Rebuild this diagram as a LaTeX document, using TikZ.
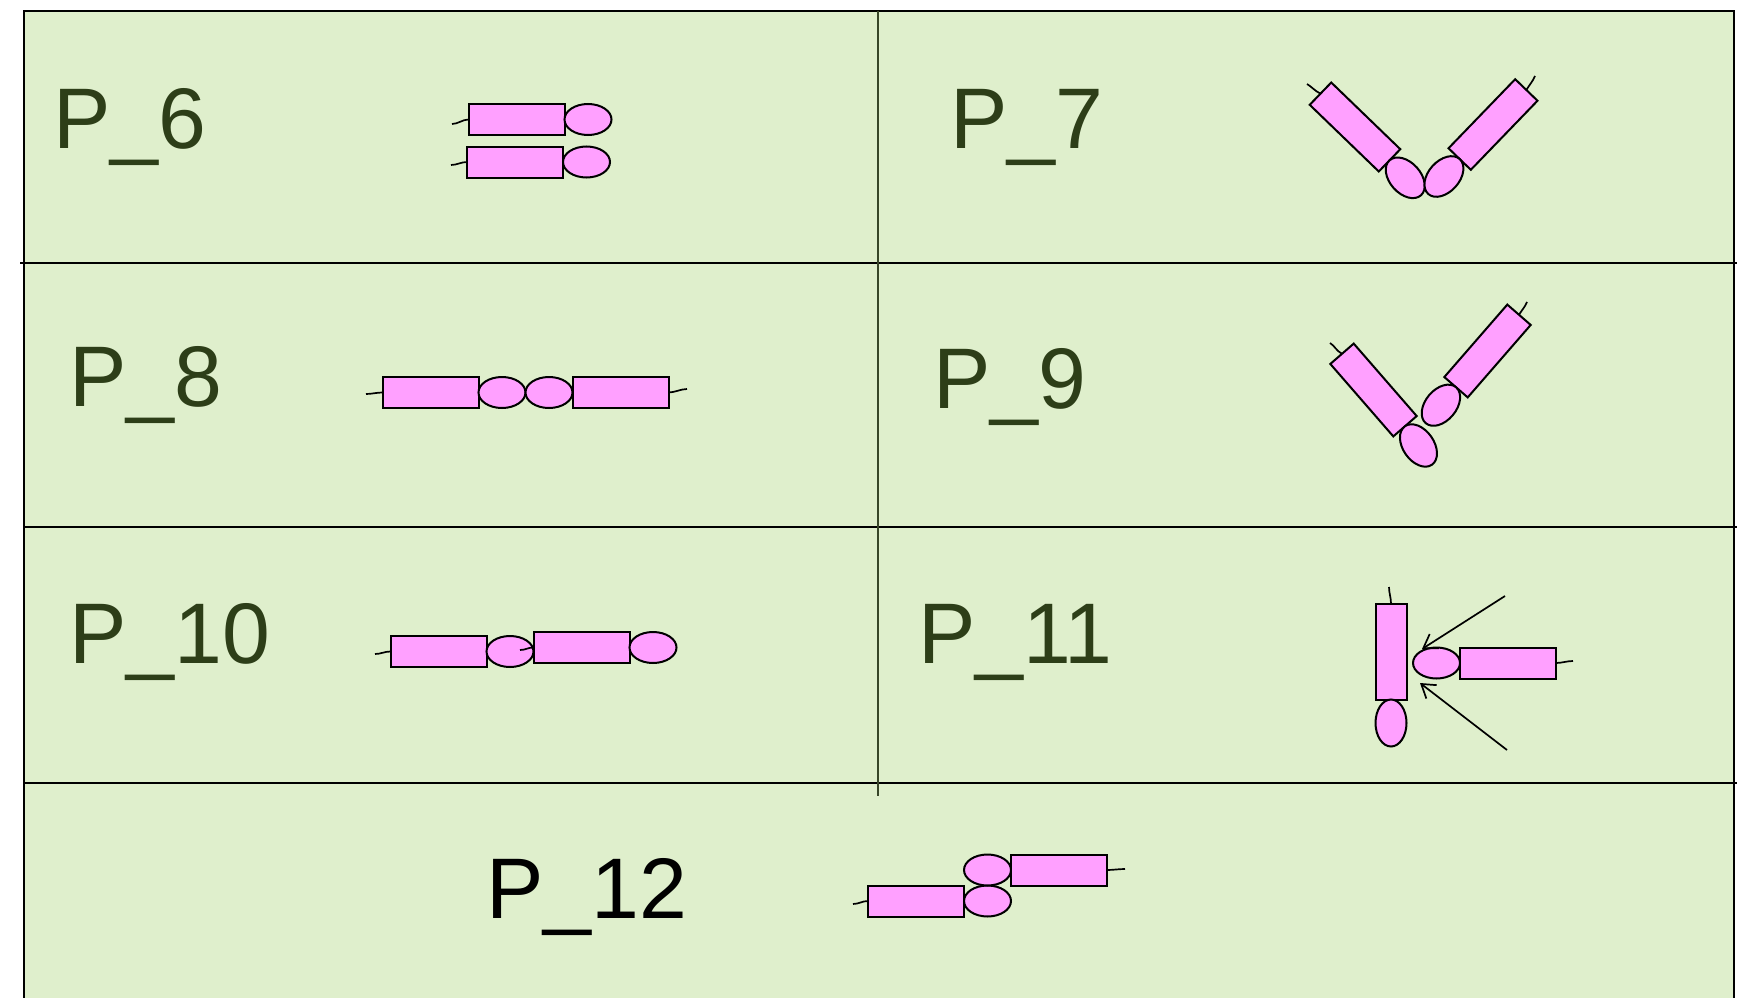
\documentclass[tikz,border=0pt]{standalone}
\usepackage{fontspec}
\setmainfont{Liberation Sans}
\usetikzlibrary{positioning,shapes.geometric,arrows.meta}
\definecolor{cellgreen}{RGB}{223,239,204}
\definecolor{dompink}{RGB}{255,160,255}
\definecolor{labelgreen}{RGB}{45,62,24}
\definecolor{ruleolive}{RGB}{55,70,40}
\begin{document}
\begin{tikzpicture}[x=1pt,y=-1pt,
	dom/.style={draw,fill=dompink,line width=2pt,minimum width=96pt,minimum height=31pt,inner sep=0pt,outer sep=0pt},
	lobe/.style={ellipse,draw,fill=dompink,line width=2pt,minimum width=47pt,minimum height=31pt,inner sep=0pt,outer sep=0pt},
	tail/.style={line width=1.7pt},
	pointer/.style={line width=1.7pt,-{Straight Barb[length=13pt,width=17pt]}},
	lbl/.style={anchor=base west,inner sep=0pt,text=labelgreen,font=\fontsize{86}{90}\selectfont},
	rule/.style={line width=2.2pt}]
	\useasboundingbox (0,0) rectangle (1746,998);
	\fill[cellgreen] (24,11) rectangle (1734,998);
	\draw[rule] (24,998) -- (24,11) -- (1734,11) -- (1734,998);
	\draw[rule] (20,263) -- (1737,263);
	\draw[rule] (24,527) -- (1737,527);
	\draw[rule] (24,783) -- (1737,783);
	\draw[line width=1.5pt,ruleolive] (878,11) -- (878,796);
	% P_6
	\node[lbl] (p6) at (53,148) {P\_6};
	\node[dom] (r6a) at (516.5,119.5) {};
	\node[lobe,right=0pt of r6a] (e6a) {};
	\node[dom] (r6b) at (515,162) {};
	\node[lobe,right=0pt of r6b] (e6b) {};
	\coordinate (t6a) at (452,124);
	\coordinate (t6b) at (451,165);
	\draw[tail] (r6a.west) .. controls +(-6,0) and +(6,0) .. (t6a);
	\draw[tail] (r6b.west) .. controls +(-6,0) and +(6,0) .. (t6b);
	% P_7
	\node[lbl] (p7) at (950,148) {P\_7};
	\node[dom,rotate=-44] (r7a) at (1355,127) {};
	\node[lobe,rotate=-48,anchor=west] (e7a) at (r7a.east) {};
	\node[dom,rotate=46] (r7b) at (1493,124.5) {};
	\node[lobe,rotate=48,anchor=east] (e7b) at (r7b.west) {};
	\coordinate (t7a) at (1307,84);
	\coordinate (t7b) at (1535,76);
	\draw[tail] (r7a.west) .. controls +(-6,-3) and +(5,3) .. (t7a);
	\draw[tail] (r7b.east) .. controls +(3,-5) and +(-2,5) .. (t7b);
	% P_8
	\node[lbl] (p8) at (69,406) {P\_8};
	\node[dom] (r8a) at (430.5,392.5) {};
	\node[lobe,right=0pt of r8a] (e8a) {};
	\node[lobe,right=0pt of e8a] (e8b) {};
	\node[dom,right=0pt of e8b] (r8b) {};
	\coordinate (t8a) at (366,394);
	\coordinate (t8b) at (687,389);
	\draw[tail] (r8a.west) .. controls +(-6,0) and +(6,0) .. (t8a);
	\draw[tail] (r8b.east) .. controls +(6,0) and +(-6,0) .. (t8b);
	% P_9
	\node[lbl] (p9) at (933,408) {P\_9};
	\node[dom,rotate=-49] (r9a) at (1373.5,390) {};
	\node[lobe,rotate=-55,anchor=west] (e9a) at (r9a.east) {};
	\node[dom,rotate=49] (r9b) at (1487.5,351) {};
	\node[lobe,rotate=50,anchor=east] (e9b) at (r9b.west) {};
	\coordinate (t9a) at (1330,343);
	\coordinate (t9b) at (1527,302);
	\draw[tail] (r9a.west) .. controls +(-6,-3) and +(5,3) .. (t9a);
	\draw[tail] (r9b.east) .. controls +(3,-5) and +(-2,5) .. (t9b);
	% P_10
	\node[lbl] (p10) at (69,663) {P\_10};
	\node[dom] (r10a) at (438.5,651.5) {};
	\node[lobe,right=0pt of r10a] (e10a) {};
	\node[dom,right=0pt of e10a,yshift=4pt] (r10b) {};
	\node[lobe,right=0pt of r10b] (e10b) {};
	\coordinate (t10a) at (375,654);
	\coordinate (t10b) at (520,650);
	\draw[tail] (r10a.west) .. controls +(-6,0) and +(6,0) .. (t10a);
	\draw[tail] (r10b.west) .. controls +(-6,0) and +(6,0) .. (t10b);
	% P_11
	\node[lbl] (p11) at (918,663) {P\_11};
	\node[dom,rotate=90] (r11a) at (1391,651.5) {};
	\node[lobe,rotate=90,anchor=east] (e11a) at (r11a.west) {};
	\node[lobe] (e11b) at (1436.5,663) {};
	\node[dom,right=0pt of e11b] (r11b) {};
	\coordinate (t11a) at (1389,587);
	\coordinate (t11b) at (1573,661);
	\draw[tail] (r11a.east) .. controls +(0,-6) and +(0,6) .. (t11a);
	\draw[tail] (r11b.east) .. controls +(6,0) and +(-6,0) .. (t11b);
	\coordinate (a11s) at (1505,596);
	\coordinate (a11t) at (1422,649);
	\coordinate (b11s) at (1507,750);
	\coordinate (b11t) at (1420,683);
	\draw[pointer] (a11s) -- (a11t);
	\draw[pointer] (b11s) -- (b11t);
	% P_12
	\node[lbl,text=black] (p12) at (486,918) {P\_12};
	\node[dom] (r12a) at (916,901) {};
	\node[lobe,right=0pt of r12a] (e12a) {};
	\node[lobe,above=0pt of e12a] (e12b) {};
	\node[dom,right=0pt of e12b] (r12b) {};
	\coordinate (t12a) at (853,904);
	\coordinate (t12b) at (1125,869);
	\draw[tail] (r12a.west) .. controls +(-6,0) and +(6,0) .. (t12a);
	\draw[tail] (r12b.east) .. controls +(6,0) and +(-6,0) .. (t12b);
\end{tikzpicture}
\end{document}
